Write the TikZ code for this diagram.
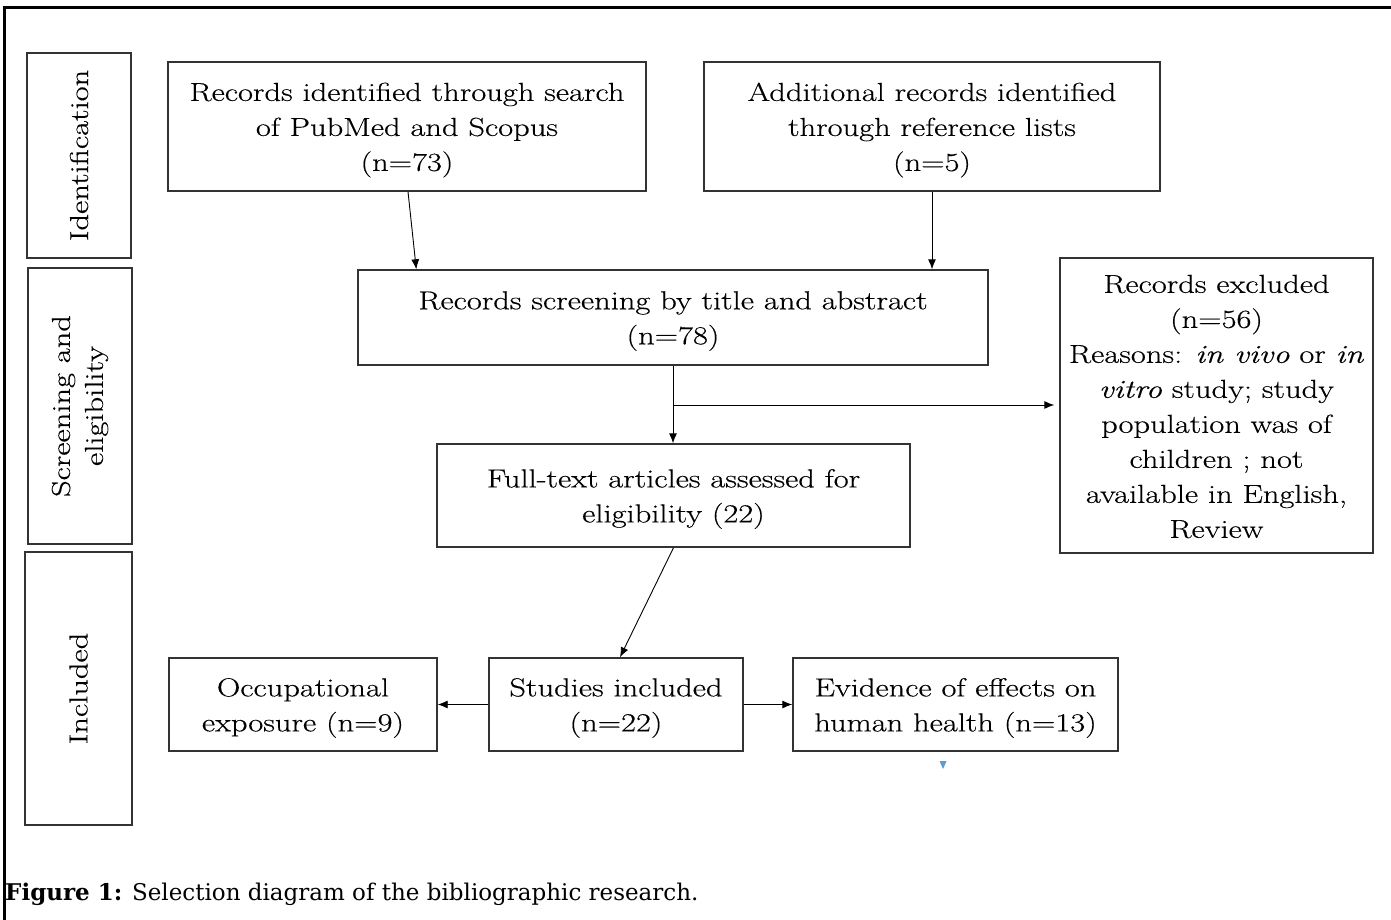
\documentclass[tikz,border=0pt]{standalone}
\usepackage{fontspec}
\setmainfont{Latin Modern Roman}[FakeStretch=1.25, FakeBold=0.35]
\newfontfamily\capfont{DejaVu Serif}
\usetikzlibrary{arrows.meta}
\definecolor{edgegray}{HTML}{333333}
\definecolor{tricol}{HTML}{5B9BD5}
\tikzset{
  box/.style={draw=edgegray, line width=1.4pt, inner sep=0pt},
  txt/.style={align=center, inner sep=0pt, yshift=-3.5pt,
    font=\fontsize{26}{35}\selectfont},
  side/.style={draw=edgegray, line width=1.4pt, inner sep=0pt},
  sidetext/.style={rotate=90, align=center, font=\fontsize{26}{33}\selectfont},
  arr/.style={draw=black, line width=0.9pt, -{Latex[length=10pt,width=8pt]}},
  frame/.style={line width=3pt, black},
}
\begin{document}
\begin{tikzpicture}[x=1pt,y=-1pt]
\useasboundingbox (0,0) rectangle (1391,920);
\fill[white] (0,0) rectangle (1391,920);
% outer frame (top and left)
\draw[frame] (4,920) -- (4,8) -- (1391,8);

% side boxes
\node[side, minimum width=104, minimum height=205] (sid) at (79,155.5) {};
\node[sidetext] (sidt) at (sid.center) {Identification};
\node[side, minimum width=104, minimum height=276] (sse) at (80,406) {};
\node[sidetext] (sset) at (sse.center) {Screening and\\eligibility};
\node[side, minimum width=107, minimum height=273] (sin) at (78.5,688.5) {};
\node[sidetext] (sint) at (sin.center) {Included};

% flow boxes
\node[box, minimum width=478, minimum height=129] (a) at (407,126.5) {};
\node[txt] (at) at (a.center)
  {Records identified through search\\of PubMed and Scopus\\(n=73)};
\node[box, minimum width=456, minimum height=129] (b) at (932,126.5) {};
\node[txt] (bt) at (b.center)
  {Additional records identified\\through reference lists\\(n=5)};
\node[box, minimum width=630, minimum height=95] (c) at (673,317.5) {};
\node[txt] (ct) at (c.center)
  {Records screening by title and abstract\\(n=78)};
\node[box, minimum width=313, minimum height=295] (d) at (1216.5,405.5) {};
\node[txt, yshift=2.5pt] (dt) at (d.center)
  {Records excluded\\(n=56)\\Reasons: \textit{in vivo} or \textit{in}\\\textit{vitro} study; study\\population was of\\children ; not\\available in English,\\Review};
\node[box, minimum width=473, minimum height=103] (e) at (673.5,495.5) {};
\node[txt] (et) at (e.center)
  {Full-text articles assessed for\\eligibility (22)};
\node[box, minimum width=268, minimum height=93] (f) at (303,704.5) {};
\node[txt] (ft) at (f.center)
  {Occupational\\exposure (n=9)};
\node[box, minimum width=254, minimum height=93] (g) at (616,704.5) {};
\node[txt] (gt) at (g.center)
  {Studies included\\(n=22)};
\node[box, minimum width=325, minimum height=93] (h) at (955.5,704.5) {};
\node[txt] (ht) at (h.center)
  {Evidence of effects on\\human health (n=13)};

% connectors
\draw[arr] ([xshift=1pt]a.south) -- ([xshift=59pt]c.north west);
\draw[arr] (b.south) -- (b.south |- c.north);
\draw[arr] (c.south) -- (c.south |- e.north);
\coordinate (br) at (c.south |- 0,405);
\draw[arr, shorten >=5pt] (br) -- (br -| d.west);
\draw[arr] (e.south) -- ([xshift=4pt]g.north);
\draw[arr] (g.west) -- (f.east);
\draw[arr] (g.east) -- (h.west);

% small blue marker
\fill[tricol] (939.5,761) -- (946.5,761) -- (943,769) -- cycle;

% caption
\node[anchor=base west, inner sep=0pt, font=\capfont\fontsize{23}{27}\selectfont] (cap) at (5,900)
  {\textbf{Figure 1:} Selection diagram of the bibliographic research.};
\end{tikzpicture}
\end{document}
